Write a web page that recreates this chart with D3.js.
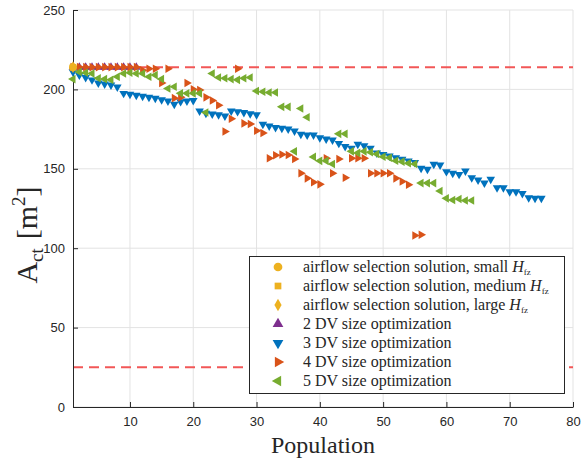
<!DOCTYPE html>
<html><head><meta charset="utf-8">
<script src="https://cdn.jsdelivr.net/npm/d3@7"></script>
<style>body{margin:0;background:#fff}</style>
</head><body><svg id="c" width="586" height="464"></svg>
<script>
const xTicks = [10,20,30,40,50,60,70,80];
const yTicks = [0,50,100,150,200,250];
const refLines = [214, 25];
const airflowSmall = [[1,214]];
const airflowMedium = [[1,214]];
const airflowLarge = [[1,214]];
const dv2 = [214,214,214,214,214,214,214,214,214,214,214];
const dv3 = [211,209,207.5,206,204,203.4,202.8,201.5,197.5,197,196.3,195.7,195,194.4,193.5,192.7,190.6,192.3,192.7,193,
  186.4,185,184.5,184,183.2,186.4,186,185.4,184.7,184,178,177,176,175.5,175,173.8,171.7,171.3,171.3,169.6,
  168.8,168.1,166,164,163,165.4,164.6,163,160,159,158,157,156,155,154,150.3,149.7,152.8,152.4,148.2,
  147.2,146.5,148.6,144.3,143,141,143.4,138,138,135.6,135.6,134.5,131.8,131.4,131.4];
const dv4 = [214,214,214,214,214,214,214,214,214,214,214,212,213,213,204,213,194.5,195,204,200,
  199.6,195,193,190,173.5,181.5,213,178.6,178.2,174,172.5,156.6,158.5,159,158.7,156.2,147.2,144,141.5,140.2,
  156.6,147.2,156.2,144.4,156.6,156.6,156.6,147.2,147.2,147.2,147.2,144,142,140,108,108.5];
const dv5 = [206.5,211,210.5,210,207,206.5,206,208,210,210.5,210,210,208,209,206.5,200.6,201.7,197.5,197.5,197.5,
  197.5,185.5,210,207.5,207,206.5,206,207,207.5,199,198.5,198,198,189,189,161,188,182.5,157.5,155,
  155,153,172,172,161,160,161,160.4,159.3,157.6,157,155.1,154.5,153.5,153,141,141,141,136,131.4,
  130.4,131,130,130];
const legendLabels = [
  ["airflow selection solution, small ", true],
  ["airflow selection solution, medium ", true],
  ["airflow selection solution, large ", true],
  ["2 DV size optimization", false],
  ["3 DV size optimization", false],
  ["4 DV size optimization", false],
  ["5 DV size optimization", false]
];

const W=586,H=464, L=73, R=573, T=10, B=407;
const svg = d3.select("#c");
const x = d3.scaleLinear().domain([1,80]).range([L,R]);
const y = d3.scaleLinear().domain([0,250]).range([B,T]);
const axisCol="#262626", tickFont="'Liberation Sans', Arial, sans-serif", serif="'Liberation Serif', 'DejaVu Serif', serif";

// grid
const g = svg.append("g");
g.selectAll(".gx").data(xTicks).join("line").attr("x1",d=>x(d)).attr("x2",d=>x(d)).attr("y1",B).attr("y2",T)
  .attr("stroke","#e3e3e3").attr("stroke-width",1);
g.selectAll(".gy").data(yTicks).join("line").attr("y1",d=>y(d)).attr("y2",d=>y(d)).attr("x1",L).attr("x2",R)
  .attr("stroke","#e3e3e3").attr("stroke-width",1);

// reference lines
svg.selectAll(".ref").data(refLines).join("line").attr("x1",L).attr("x2",R).attr("y1",d=>y(d)).attr("y2",d=>y(d))
  .attr("stroke","#f25757").attr("stroke-width",2).attr("stroke-dasharray","10,6");

// axes
const xa = svg.append("g").attr("transform",`translate(0,${B})`)
  .call(d3.axisBottom(x).tickValues(xTicks).tickSizeInner(-5).tickSizeOuter(0).tickPadding(10));
const ya = svg.append("g").attr("transform",`translate(${L},0)`)
  .call(d3.axisLeft(y).tickValues(yTicks).tickSizeInner(-5).tickSizeOuter(0).tickPadding(8));
[xa,ya].forEach(a=>{
  a.select(".domain").attr("stroke",axisCol);
  a.selectAll(".tick line").attr("stroke",axisCol);
  a.selectAll("text").attr("fill",axisCol).style("font-family",tickFont).style("font-size","13px");
});

// markers
const sym = (type,size)=>d3.symbol().type(type).size(size)();
const tri = sym(d3.symbolTriangle, 32);
function drawSeries(data, color, rot){
  svg.append("g").selectAll("path").data(data).join("path")
    .attr("d",tri).attr("fill",color)
    .attr("transform",(d,i)=>`translate(${x(i+1)},${y(d)}) rotate(${rot})`);
}
const cBlue="#0072BD", cOrange="#D95319", cYellow="#EDB120", cPurple="#7E2F8E", cGreen="#77AC30";
drawSeries(dv2,cPurple,0);
drawSeries(dv3,cBlue,180);
drawSeries(dv4,cOrange,90);
drawSeries(dv5,cGreen,-90);
const af = svg.append("g");
af.selectAll(".s").data(airflowLarge).join("path").attr("d",sym(d3.symbolDiamond,40)).attr("fill",cYellow)
  .attr("transform",d=>`translate(${x(d[0])},${y(d[1])})`);
af.selectAll(".m").data(airflowMedium).join("path").attr("d",sym(d3.symbolSquare,40)).attr("fill",cYellow)
  .attr("transform",d=>`translate(${x(d[0])},${y(d[1])})`);
af.selectAll(".c").data(airflowSmall).join("path").attr("d",sym(d3.symbolCircle,50)).attr("fill",cYellow)
  .attr("transform",d=>`translate(${x(d[0])},${y(d[1])})`);

// axis labels
const yl = svg.append("text").attr("transform","translate(37,235) rotate(-90)").attr("text-anchor","middle")
  .style("font-family",serif).style("font-size","30px").attr("fill",axisCol);
yl.append("tspan").text("A");
yl.append("tspan").text("ct").attr("dy",6).style("font-size","19px");
yl.append("tspan").text("[m").attr("dy",-6).attr("dx",9);
yl.append("tspan").text("2").attr("dy",-12).style("font-size","19px");
yl.append("tspan").text("]").attr("dy",12);
svg.append("text").attr("x",323).attr("y",453).attr("text-anchor","middle").style("font-family",serif)
  .style("font-size","24px").attr("fill",axisCol).text("Population");

// legend
const lg = svg.append("g");
lg.append("rect").attr("x",249.5).attr("y",256.5).attr("width",315).attr("height",137).attr("fill","#fff")
  .attr("stroke",axisCol).attr("stroke-width",1);
const legSyms = [
  [sym(d3.symbolCircle,60),cYellow,0],[sym(d3.symbolSquare,45),cYellow,0],[sym(d3.symbolDiamond,45),cYellow,0],
  [sym(d3.symbolTriangle,50),cPurple,0],[sym(d3.symbolTriangle,50),cBlue,180],[sym(d3.symbolTriangle,50),cOrange,90],
  [sym(d3.symbolTriangle,50),cGreen,-90]];
legendLabels.forEach((l,i)=>{
  const yy = 267 + i*19;
  lg.append("path").attr("d",legSyms[i][0]).attr("fill",legSyms[i][1])
    .attr("transform",`translate(278,${yy}) rotate(${legSyms[i][2]})`);
  const t = lg.append("text").attr("x",303).attr("y",yy+4.5).style("font-family",serif).style("font-size","16px").attr("fill",axisCol);
  t.append("tspan").text(l[0]);
  if(l[1]){ t.append("tspan").text("H").style("font-style","italic");
    t.append("tspan").text("fz").attr("dy",3).style("font-size","9px"); }
});
</script></body></html>
